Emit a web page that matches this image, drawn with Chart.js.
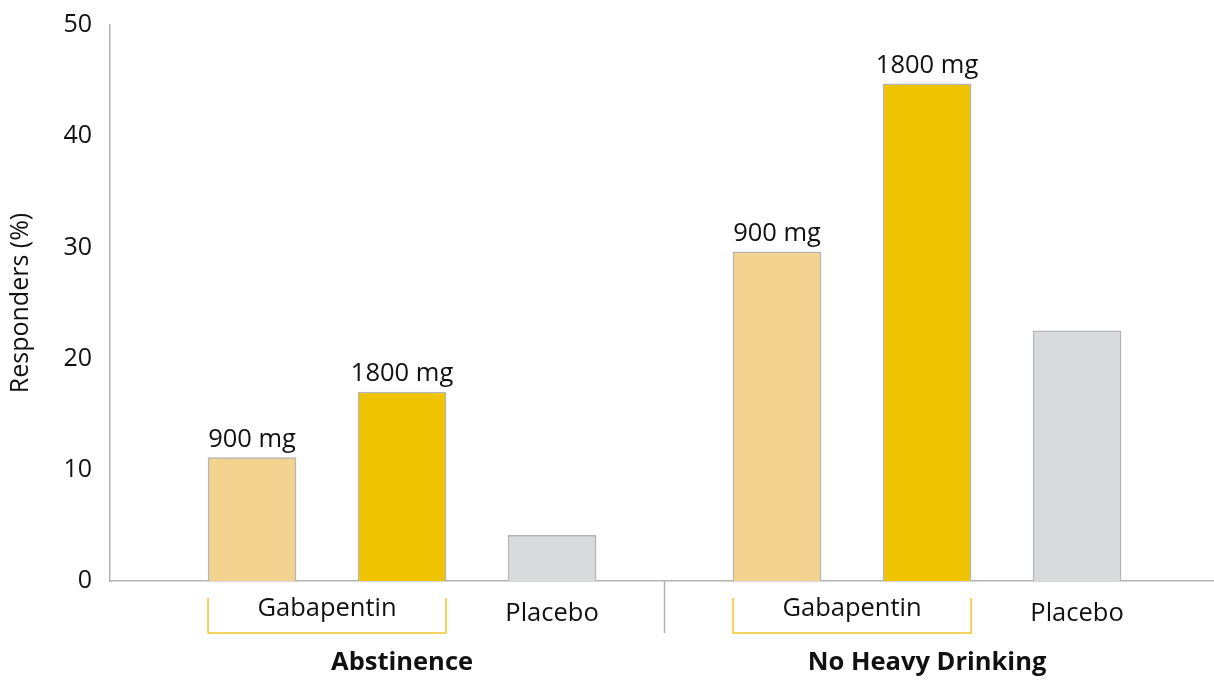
<!DOCTYPE html>
<html>
<head>
<meta charset="utf-8">
<script src="https://cdn.jsdelivr.net/npm/chart.js@4"></script>
<style>
  html, body { margin: 0; padding: 0; background: #fff; }
  #wrap { width: 1214px; height: 681px; }
</style>
</head>
<body>
<div id="wrap"><canvas id="chart" width="1214" height="681"></canvas></div>
<script>
// data
const groups = ['Abstinence', 'No Heavy Drinking'];
const arms = ['900 mg', '1800 mg', 'Placebo'];
const armGroupLabels = ['Gabapentin', 'Gabapentin', 'Placebo'];
const abstinence = [11.1, 17.0, 4.1];
const noHeavyDrinking = [29.6, 44.7, 22.5];
const yTicks = [0, 10, 20, 30, 40, 50];

const armColors = ['#f2d490', '#f0c300', '#d9dadc'];
const groupOffset = [0, 3.5];
const series = [abstinence, noHeavyDrinking];

// build points on a linear x axis
const points = [];
const colors = [];
series.forEach((vals, g) => {
  vals.forEach((v, i) => {
    points.push({ x: groupOffset[g] + i + 1, y: v, arm: arms[i], group: g });
    colors.push(armColors[i]);
  });
});

const FONT = '"Open Sans", "Noto Sans", sans-serif';

// custom labels: dose names above bars, brackets, group names
const labelsPlugin = {
  id: 'labels',
  afterDraw(chart) {
    const ctx = chart.ctx;
    const xs = chart.scales.x;
    const ys = chart.scales.y;
    const meta = chart.getDatasetMeta(0);
    const base = ys.getPixelForValue(0);
    ctx.save();
    ctx.fillStyle = '#111';
    ctx.textAlign = 'center';

    // dose labels above gabapentin bars
    ctx.font = '25.5px ' + FONT;
    ctx.textBaseline = 'alphabetic';
    meta.data.forEach((bar, i) => {
      const p = points[i];
      if (p.arm === 'Placebo') return;
      ctx.fillText(p.arm, bar.x, bar.y - 11);
    });

    groups.forEach((name, g) => {
      const off = groupOffset[g];
      const b1 = meta.data[g * 3];
      const b2 = meta.data[g * 3 + 1];
      const b3 = meta.data[g * 3 + 2];
      const left = b1.x - b1.width / 2;
      const right = b2.x + b2.width / 2;

      // bracket
      ctx.strokeStyle = '#f2c52a';
      ctx.lineWidth = 1.5;
      ctx.beginPath();
      ctx.moveTo(left, base + 17);
      ctx.lineTo(left, base + 52);
      ctx.lineTo(right, base + 52);
      ctx.lineTo(right, base + 17);
      ctx.stroke();

      ctx.font = '25.5px ' + FONT;
      ctx.textBaseline = 'middle';
      ctx.fillText(armGroupLabels[0], (b1.x + b2.x) / 2, base + 28);
      ctx.fillText(armGroupLabels[2], b3.x, base + 33);

      ctx.font = 'bold 25.5px ' + FONT;
      ctx.fillText(name, xs.getPixelForValue(off + 2), base + 82);
    });

    // divider between groups
    const mid = xs.getPixelForValue((groupOffset[0] + 3 + groupOffset[1] + 1) / 2);
    ctx.strokeStyle = '#b3b3b3';
    ctx.lineWidth = 1.5;
    ctx.beginPath();
    ctx.moveTo(mid, base);
    ctx.lineTo(mid, base + 52);
    ctx.stroke();
    ctx.restore();
  }
};

new Chart(document.getElementById('chart'), {
  type: 'bar',
  data: {
    datasets: [{
      data: points,
      backgroundColor: colors,
      borderColor: '#b5b5b5',
      borderWidth: 1.5,
      barThickness: 88
    }]
  },
  options: {
    responsive: false,
    animation: false,
    layout: { padding: { top: 22, right: 0, bottom: 0, left: 0 } },
    plugins: { legend: { display: false }, tooltip: { enabled: false } },
    scales: {
      x: {
        type: 'linear',
        offset: false,
        min: 0.053,
        max: 7.413,
        grid: { display: false },
        ticks: { display: false },
        border: { color: '#b3b3b3', width: 1.5 },
        afterFit(s) { s.height = 100; }
      },
      y: {
        min: 0,
        max: 50,
        afterBuildTicks(s) { s.ticks = yTicks.map(v => ({ value: v })); },
        grid: { display: false },
        border: { color: '#b3b3b3', width: 1.5 },
        ticks: { color: '#111', font: { family: FONT, size: 25 }, padding: 10 },
        title: {
          display: true,
          text: 'Responders (%)',
          color: '#111',
          font: { family: FONT, size: 25 },
          padding: { top: 6, bottom: 0 }
        },
        afterFit(s) { s.width = 110; }
      }
    }
  },
  plugins: [labelsPlugin]
});
</script>
</body>
</html>
